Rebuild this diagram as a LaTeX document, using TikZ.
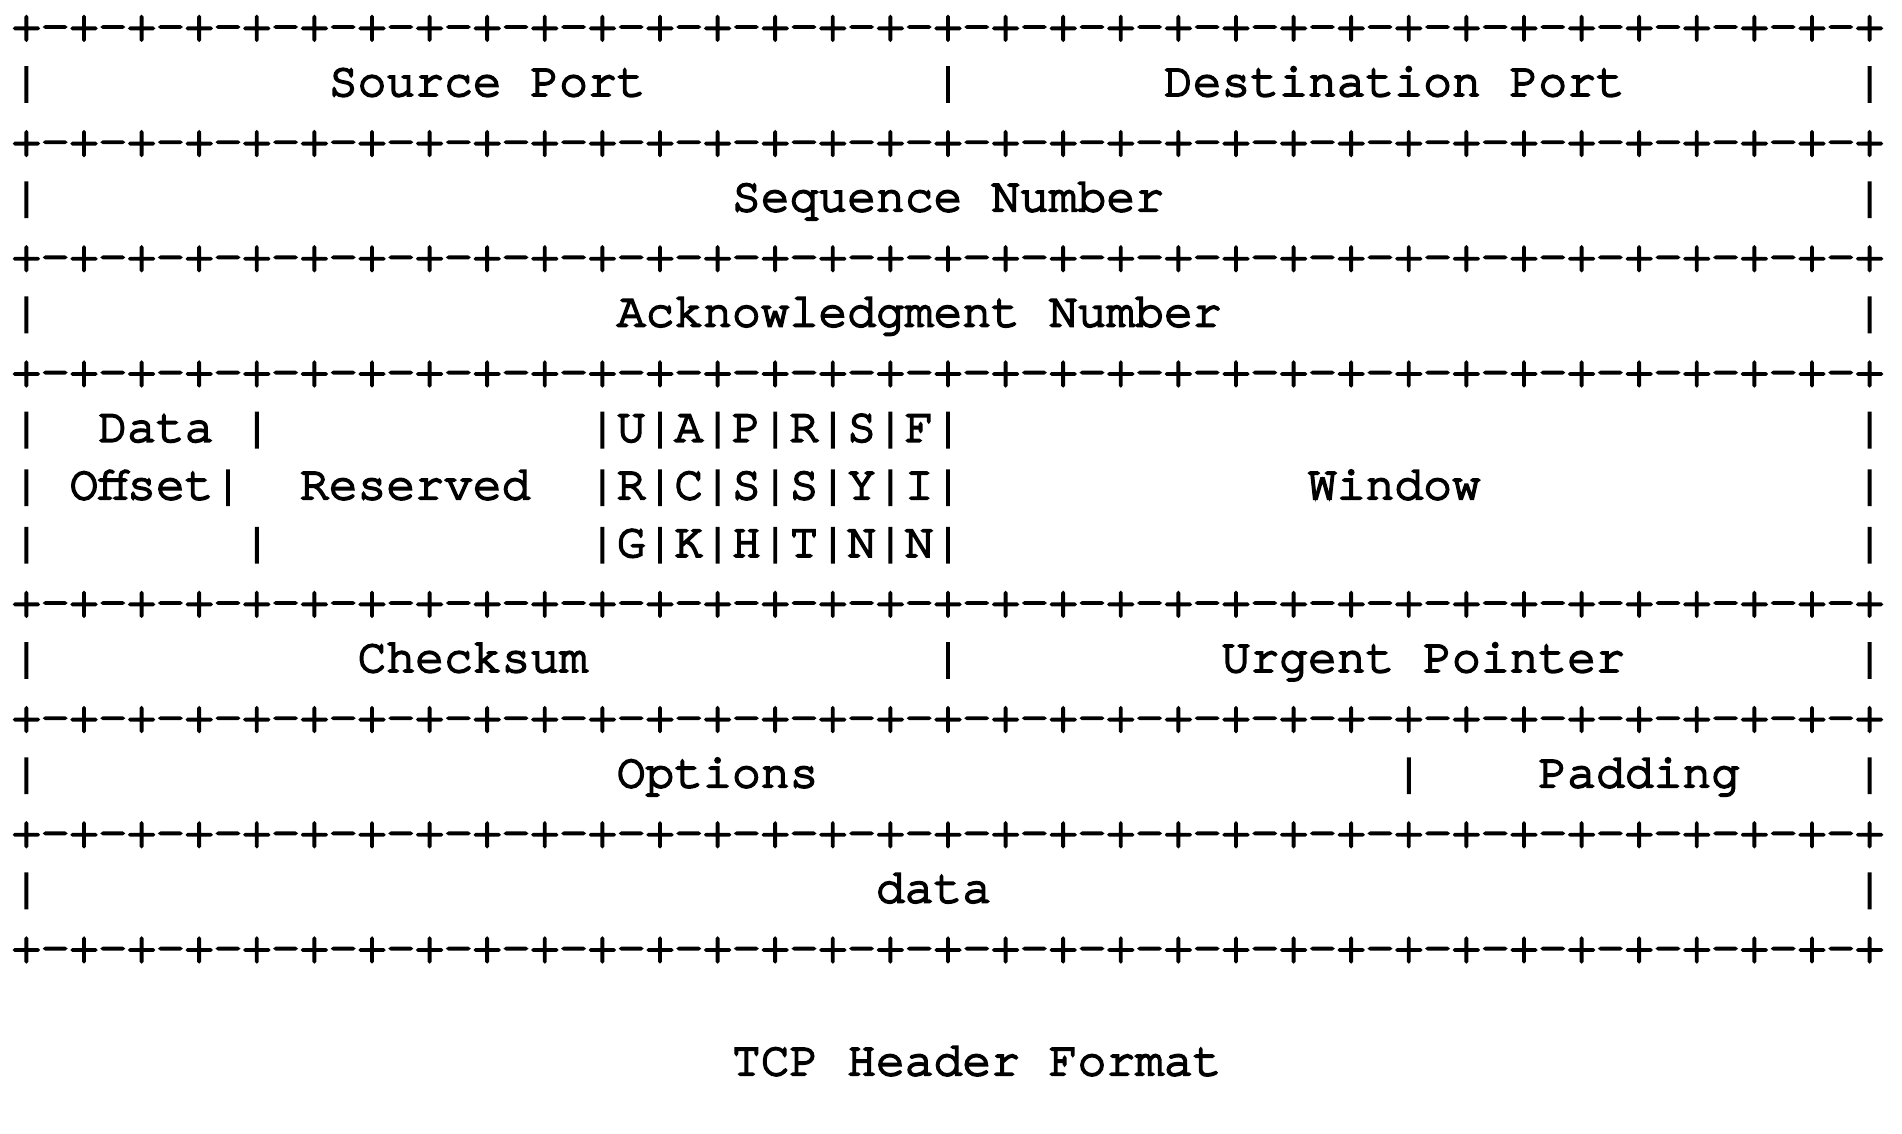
\documentclass[tikz,border=0pt]{standalone}
\usepackage{fontspec}
\newfontfamily\courfont{texgyrecursor}[Extension=.otf,UprightFont=*-regular,FakeBold=4]
\newcommand\bordertext{+-+-+-+-+-+-+-+-+-+-+-+-+-+-+-+-+-+-+-+-+-+-+-+-+-+-+-+-+-+-+-+-+}
\tikzset{ascii/.style={inner sep=0pt, outer sep=0pt, anchor=base west,
  font=\courfont\fontsize{24pt}{28.8pt}\selectfont}}
% border rows
\newcommand\brow[2]{\node[ascii] (#1) at ({6pt},{-20.2pt-#2*28.8pt}) {\bordertext};}
% text segments (slightly raised to match the reference)
\newcommand\seg[4]{\node[ascii] (#1) at ({6pt+#2*14.4pt},{-19.2pt-#3*28.8pt}) {#4};}
\begin{document}
\begin{tikzpicture}
\useasboundingbox (0,0) rectangle (951pt,-567pt);
% borders
\brow{b0}{0}
\brow{b2}{2}
\brow{b4}{4}
\brow{b6}{6}
\brow{b10}{10}
\brow{b12}{12}
\brow{b14}{14}
\brow{b16}{16}
% line 1
\seg{l1a}{0}{1}{|}
\seg{srcport}{11}{1}{Source Port}
\seg{l1b}{32}{1}{|}
\seg{dstport}{40}{1}{Destination Port}
\seg{l1c}{64}{1}{|}
% line 3
\seg{l3a}{0}{3}{|}
\seg{seqnum}{25}{3}{Sequence Number}
\seg{l3b}{64}{3}{|}
% line 5
\seg{l5a}{0}{5}{|}
\seg{acknum}{21}{5}{Acknowledgment Number}
\seg{l5b}{64}{5}{|}
% line 7
\seg{l7a}{0}{7}{|}
\seg{data1}{3}{7}{Data}
\seg{l7b}{8}{7}{|}
\seg{flags1}{20}{7}{|U|A|P|R|S|F|}
\seg{l7c}{64}{7}{|}
% line 8
\seg{l8a}{0}{8}{|}
\seg{offset}{2}{8}{Offset|}
\seg{reserved}{10}{8}{Reserved}
\seg{flags2}{20}{8}{|R|C|S|S|Y|I|}
\seg{window}{45}{8}{Window}
\seg{l8b}{64}{8}{|}
% line 9
\seg{l9a}{0}{9}{|}
\seg{l9b}{8}{9}{|}
\seg{flags3}{20}{9}{|G|K|H|T|N|N|}
\seg{l9c}{64}{9}{|}
% line 11
\seg{l11a}{0}{11}{|}
\seg{checksum}{12}{11}{Checksum}
\seg{l11b}{32}{11}{|}
\seg{urgent}{42}{11}{Urgent Pointer}
\seg{l11c}{64}{11}{|}
% line 13
\seg{l13a}{0}{13}{|}
\seg{options}{21}{13}{Options}
\seg{l13b}{48}{13}{|}
\seg{padding}{53}{13}{Padding}
\seg{l13c}{64}{13}{|}
% line 15
\seg{l15a}{0}{15}{|}
\seg{datafield}{30}{15}{data}
\seg{l15b}{64}{15}{|}
% title
\seg{title}{25}{18}{TCP Header Format}
\end{tikzpicture}
\end{document}
